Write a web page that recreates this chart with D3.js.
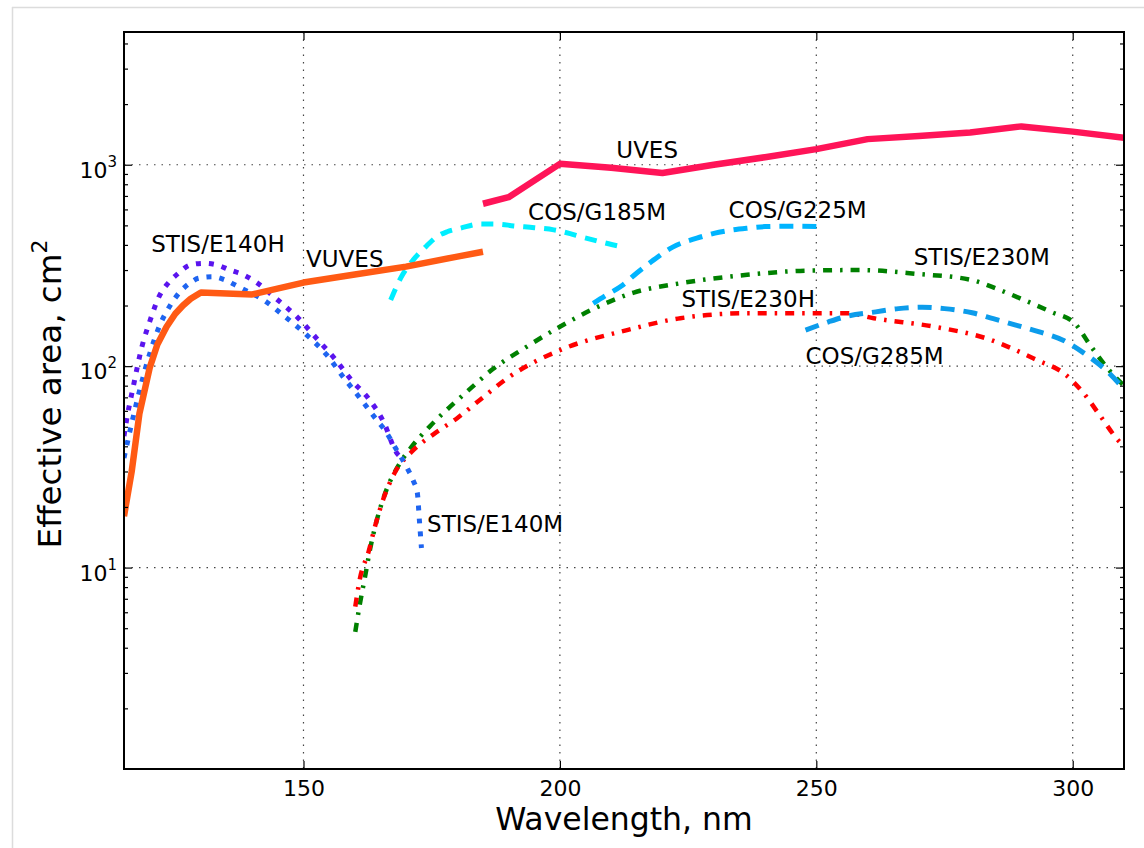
<!DOCTYPE html>
<html>
<head>
<meta charset="utf-8">
<script src="https://cdn.jsdelivr.net/npm/d3@7"></script>
<style>
  body { margin: 0; background: #fff; }
  svg text { font-family: "DejaVu Sans", sans-serif; fill: #000; }
</style>
</head>
<body>
<svg id="chart" width="1144" height="848"></svg>
<script>
// wavelength (nm) and effective area (cm^2) for each instrument
const uvesWl = [185, 190, 200, 210, 220, 230, 240, 250, 260, 270, 280, 290, 300, 310]
const uvesArea = [640, 690, 1010, 965, 910, 1000, 1090, 1195, 1340, 1390, 1445, 1550, 1460, 1360]

const vuvesWl = [115, 116.5, 118, 120, 121.5, 123.3, 125, 126.5, 128, 130, 140, 150, 160, 170, 180, 185]
const vuvesArea = [18, 30, 58, 98, 128, 157, 182, 200, 216, 232, 227, 260, 285, 312, 350, 370]

const e140hWl = [115, 115.5, 116.8, 118.5, 120.1, 122, 123.6, 125.6, 127.9, 130.5, 133.1, 135.7, 138.3, 140.6, 144.8, 149, 152.6, 156.2, 159.4, 162.7, 165.6, 168.2, 169.2]
const e140hArea = [45, 54, 79, 125, 169, 226, 258, 289, 318, 324, 318, 300, 284, 263, 215, 173, 137, 108, 85, 69, 53, 37, 35]

const e140mWl = [115, 116.5, 118, 120, 122, 124, 126, 128, 129.5, 132.1, 134.7, 137.3, 142.2, 146.4, 150.6, 154.5, 157.8, 161.1, 164.3, 165.9, 168, 170.1, 171.4, 172.2, 172.6, 173]
const e140mArea = [35, 52, 75, 115, 160, 200, 235, 260, 273, 278, 268, 248, 213, 176, 143, 114, 88, 69, 54, 48, 39, 31.6, 27, 23.5, 17.2, 12.5]

const g185mWl = [167, 169, 171.4, 174, 176, 178, 180.6, 184.5, 188, 191, 195, 198.8, 202, 204, 207, 209.5, 212]
const g185mArea = [213, 275, 337, 395, 439, 465, 484, 508, 507, 497, 487, 475, 455, 440, 420, 405, 392]

const g225mWl = [206.5, 209, 212, 215, 218.3, 222, 226.7, 231, 236.5, 240, 245, 251]
const g225mArea = [205, 225, 250, 290, 337, 390, 432, 462, 484, 493, 495, 493]

const e230mWl = [160.1, 161, 162, 163, 164.3, 165.9, 168.2, 171.1, 174.7, 178.6, 182.2, 187, 192.9, 200, 207, 214.4, 223.5, 236.5, 248.2, 258.6, 269.7, 280.2, 285.4, 290.5, 295.8, 300.3, 303.5, 306.8, 310]
const e230mArea = [4.8, 6.6, 9.0, 12.4, 17.2, 23.3, 31.1, 39.8, 50.4, 62.9, 76, 97, 122, 157, 195, 232, 258, 284, 298, 300, 287, 268, 241, 213, 186, 164, 126, 97.5, 80]

const e230hWl = [160.1, 161, 162.7, 164, 165.6, 167.9, 171.1, 175.4, 179.9, 185, 190, 200.7, 213.1, 223.5, 236.5, 243.7, 256.1, 261.2, 273, 283.3, 293.1, 298.3, 302.2, 305.5, 308.8, 310]
const e230hArea = [6.4, 8.8, 12, 16.2, 22, 29.9, 37.6, 46, 55, 70, 88, 122, 151, 173, 183, 183, 183, 173, 157, 137, 107, 92, 73, 56, 43, 40]

const g285mWl = [247.9, 252.4, 256, 261.6, 266, 270.7, 275, 280.4, 284.5, 288.9, 293.5, 298, 302.2, 306.1, 310]
const g285mArea = [151, 166, 177, 186, 193, 196, 193, 184, 172, 160, 148, 135, 116, 97.5, 77]

const xTicks = [150, 200, 250, 300]
const yTicks = [10, 100, 1000]

// curve labels: text, wavelength and area where the text baseline starts
const labelText = ['UVES', 'COS/G185M', 'COS/G225M', 'STIS/E230M', 'STIS/E230H', 'COS/G285M', 'STIS/E140H', 'VUVES', 'STIS/E140M']
const labelWl = [211.0, 193.8, 232.9, 269.0, 223.7, 247.9, 120.3, 150.5, 174.1]
const labelArea = [1078, 532, 543, 318, 197, 103, 368, 312, 15.0]

const width = 1144, height = 848
const margin = {left: 124, right: 20, top: 32, bottom: 79}

const svg = d3.select('svg#chart')

// light frame around the figure
svg.append('line').attr('x1', 12).attr('x2', width).attr('y1', 7.5).attr('y2', 7.5)
    .attr('stroke', '#dcdcdc').attr('stroke-width', 1.5)
svg.append('line').attr('x1', 12.5).attr('x2', 12.5).attr('y1', 7).attr('y2', height)
    .attr('stroke', '#dcdcdc').attr('stroke-width', 1.5)

let x = d3.scaleLinear()
    .domain([115, 310])
    .range([margin.left, width - margin.right])
let y = d3.scaleLog()
    .domain([1, 4560])
    .range([height - margin.bottom, margin.top])

let plotW = width - margin.right - margin.left
let plotH = height - margin.bottom - margin.top

svg.append('clipPath').attr('id', 'plot-clip')
    .append('rect')
    .attr('x', margin.left).attr('y', margin.top)
    .attr('width', plotW).attr('height', plotH)

// dotted grid on the major ticks
let grid = svg.append('g')
grid.selectAll('line.gx').data(xTicks).enter().append('line')
    .attr('x1', d => x(d)).attr('x2', d => x(d))
    .attr('y1', margin.top).attr('y2', margin.top + plotH)
    .attr('stroke', '#444').attr('stroke-width', 1.2).attr('stroke-dasharray', '1.5,6')
grid.selectAll('line.gy').data(yTicks).enter().append('line')
    .attr('x1', margin.left).attr('x2', margin.left + plotW)
    .attr('y1', d => y(d)).attr('y2', d => y(d))
    .attr('stroke', '#444').attr('stroke-width', 1.2).attr('stroke-dasharray', '1.5,6')

// the curves
const series = [
    {wl: e230mWl, area: e230mArea, color: '#008000', width: 4.5, dash: '9,8,2.5,8', curve: d3.curveMonotoneX},
    {wl: e230hWl, area: e230hArea, color: '#ff0000', width: 4.5, dash: '9,8,2.5,8', curve: d3.curveMonotoneX},
    {wl: g285mWl, area: g285mArea, color: '#0c9ceb', width: 5, dash: '14,9', curve: d3.curveMonotoneX},
    {wl: g225mWl, area: g225mArea, color: '#00b4ff', width: 5, dash: '14,9', curve: d3.curveMonotoneX},
    {wl: g185mWl, area: g185mArea, color: '#00eeff', width: 5, dash: '12,9', curve: d3.curveMonotoneX},
    {wl: e140hWl, area: e140hArea, color: '#5a14ee', width: 5, dash: '5,8', curve: d3.curveMonotoneX},
    {wl: e140mWl, area: e140mArea, color: '#1e64f0', width: 5, dash: '5,8', curve: d3.curveMonotoneX},
    {wl: vuvesWl, area: vuvesArea, color: '#ff5a14', width: 6.5, dash: null, curve: d3.curveLinear},
    {wl: uvesWl, area: uvesArea, color: '#ff1458', width: 6.5, dash: null, curve: d3.curveLinear}
]

let curves = svg.append('g').attr('clip-path', 'url(#plot-clip)')
for (let s of series) {
    let pts = s.wl.map((w, i) => [w, s.area[i]])
    let line = d3.line()
        .x(d => x(d[0]))
        .y(d => y(d[1]))
        .curve(s.curve)
    curves.append('path')
        .datum(pts)
        .attr('d', line)
        .attr('fill', 'none')
        .attr('stroke', s.color)
        .attr('stroke-width', s.width)
        .attr('stroke-dasharray', s.dash)
        .attr('stroke-linejoin', 'round')
}

// axes: ticks point inwards on all four sides
let minorY = []
for (let dec = 1; dec < 10000; dec *= 10) {
    for (let k = 2; k < 10; k++) {
        if (dec * k <= 4560) minorY.push(dec * k)
    }
}

let axisStyle = g => {
    g.select('.domain').remove()
    g.selectAll('.tick line').attr('stroke', '#000').attr('stroke-width', 1.2)
}

svg.append('g')
    .attr('transform', `translate(0,${margin.top + plotH})`)
    .call(d3.axisBottom(x).tickValues(xTicks).tickSize(-8).tickPadding(11).tickFormat(d3.format('d')))
    .call(axisStyle)
    .call(g => g.selectAll('text').attr('font-size', 22).attr('dy', '0.71em'))
svg.append('g')
    .attr('transform', `translate(0,${margin.top})`)
    .call(d3.axisTop(x).tickValues(xTicks).tickSize(-8).tickFormat(''))
    .call(axisStyle)

svg.append('g')
    .attr('transform', `translate(${margin.left},0)`)
    .call(d3.axisLeft(y).tickValues(yTicks).tickSize(-8).tickFormat(''))
    .call(axisStyle)
svg.append('g')
    .attr('transform', `translate(${margin.left},0)`)
    .call(d3.axisLeft(y).tickValues(minorY).tickSize(-4).tickFormat(''))
    .call(axisStyle)
svg.append('g')
    .attr('transform', `translate(${margin.left + plotW},0)`)
    .call(d3.axisRight(y).tickValues(yTicks).tickSize(-8).tickFormat(''))
    .call(axisStyle)
svg.append('g')
    .attr('transform', `translate(${margin.left + plotW},0)`)
    .call(d3.axisRight(y).tickValues(minorY).tickSize(-4).tickFormat(''))
    .call(axisStyle)

// y tick labels as 10 with a superscript exponent
let yLab = svg.append('g')
for (let t of yTicks) {
    let txt = yLab.append('text')
        .attr('x', margin.left - 7)
        .attr('y', y(t) + 13)
        .attr('text-anchor', 'end')
        .attr('font-size', 22)
    txt.append('tspan').text('10')
    txt.append('tspan').attr('font-size', 15).attr('dy', -11).text(Math.round(Math.log10(t)))
}

// frame
svg.append('rect')
    .attr('x', margin.left).attr('y', margin.top)
    .attr('width', plotW).attr('height', plotH)
    .attr('fill', 'none').attr('stroke', '#000').attr('stroke-width', 2)

// axis titles
svg.append('text')
    .attr('x', margin.left + plotW / 2)
    .attr('y', 830)
    .attr('text-anchor', 'middle')
    .attr('font-size', 31.5)
    .text('Wavelength, nm')

let yTitle = svg.append('text')
    .attr('transform', `translate(61,394) rotate(-90)`)
    .attr('text-anchor', 'middle')
    .attr('font-size', 32.5)
yTitle.append('tspan').text('Effective area, cm')
yTitle.append('tspan').attr('font-size', 22).attr('dy', -14).text('2')

// curve labels
svg.append('g').selectAll('text')
    .data(labelText)
    .enter()
    .append('text')
    .attr('x', (d, i) => x(labelWl[i]))
    .attr('y', (d, i) => y(labelArea[i]))
    .attr('font-size', 23)
    .text(d => d)
</script>
</body>
</html>
